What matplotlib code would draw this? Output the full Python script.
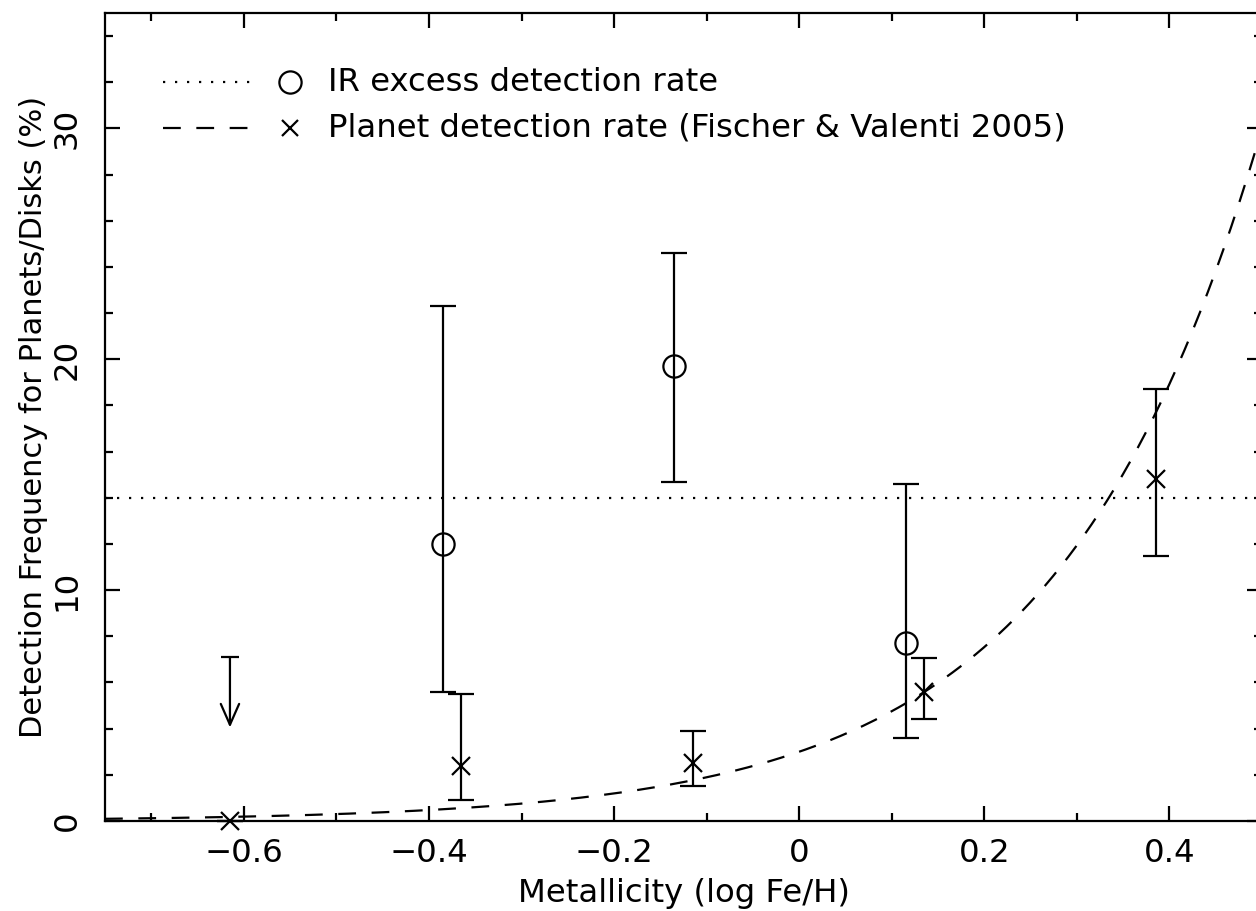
import numpy as np
import matplotlib
matplotlib.use("Agg")
import matplotlib.pyplot as plt
from matplotlib.ticker import MultipleLocator

plt.rcParams["font.family"] = ["DejaVu Sans"]
plt.rcParams["axes.unicode_minus"] = True

# IR excess (circles) — detection rate per metallicity bin
ir_feh = [-0.385, -0.135, 0.115]
ir_rate = [12.0, 19.7, 7.7]
ir_lo = [5.6, 14.7, 3.6]
ir_hi = [22.3, 24.6, 14.6]

# IR upper limit in the lowest bin
ir_lim_feh = [-0.615]
ir_lim_val = [7.1]

# mean IR excess rate (dotted line)
ir_mean = 14.0

# planet detection rate (crosses)
pl_feh = [-0.615, -0.365, -0.115, 0.135, 0.385]
pl_rate = [0.0, 2.4, 2.5, 5.6, 14.8]
pl_lo = [0.0, 0.9, 1.5, 4.4, 11.5]
pl_hi = [0.0, 5.5, 3.9, 7.05, 18.7]

# Fischer & Valenti (2005): P(%) = 3 * 10**(2 [Fe/H])
fv_coef = 3.0
fv_slope = 2.0

LW = 1.6
FS = 23.3

fig = plt.figure(figsize=(12.56, 9.11), dpi=100)
ax = fig.add_axes([105 / 1256, 90 / 911, 1157 / 1256, 808 / 911])

# 曲线和水平线
xx = np.linspace(-0.75, 0.5, 300)
ax.plot(xx, fv_coef * 10 ** (fv_slope * xx), color="black", lw=LW,
        linestyle=(0, (8, 7)))
ax.axhline(ir_mean, color="black", lw=LW, linestyle=(0, (1, 4.4)))

# 误差棒
ir_err = [np.array(ir_rate) - np.array(ir_lo), np.array(ir_hi) - np.array(ir_rate)]
ax.errorbar(ir_feh, ir_rate, yerr=ir_err, fmt="o", mfc="none", mec="black",
            ms=16, mew=LW, ecolor="black", elinewidth=LW, capsize=9.5,
            capthick=LW)
pl_err = [np.array(pl_rate) - np.array(pl_lo), np.array(pl_hi) - np.array(pl_rate)]
ax.errorbar(pl_feh, pl_rate, yerr=pl_err, fmt="x", color="black",
            ms=13, mew=LW, ecolor="black", elinewidth=LW, capsize=9.5,
            capthick=LW, clip_on=False)

# 上限箭头
for x, v in zip(ir_lim_feh, ir_lim_val):
    ax.plot([x], [v], marker="_", color="black", ms=13, mew=LW)
    ax.annotate("", xy=(x, v - 3.05), xytext=(x, v),
                arrowprops=dict(arrowstyle="->,head_length=0.75,head_width=0.33",
                                color="black", lw=LW, mutation_scale=20,
                                shrinkA=0, shrinkB=0))

# 图例（手动）
rows = [(0.9146, (0, (1, 4.4)), "o", "IR excess detection rate"),
        (0.8577, (0, (8, 7)), "x", "Planet detection rate (Fischer & Valenti 2005)")]
for y, ls, mk, label in rows:
    ax.plot([0.050, 0.128], [y, y], transform=ax.transAxes, color="black",
            lw=LW, linestyle=ls)
    if mk == "o":
        ax.plot([0.160], [y], transform=ax.transAxes, marker="o", mfc="none",
                mec="black", ms=16, mew=LW)
    else:
        ax.plot([0.160], [y], transform=ax.transAxes, marker="x", color="black",
                ms=11, mew=LW)
    ax.text(0.193, y, label, transform=ax.transAxes, fontsize=FS,
            va="center", ha="left")

ax.set_xlim(-0.75, 0.5)
ax.set_ylim(0, 35)
ax.xaxis.set_major_locator(MultipleLocator(0.2))
ax.xaxis.set_minor_locator(MultipleLocator(0.1))
ax.yaxis.set_major_locator(MultipleLocator(10))
ax.yaxis.set_minor_locator(MultipleLocator(2))
ax.set_xticks([-0.6, -0.4, -0.2, 0.0, 0.2, 0.4])
ax.set_xticklabels(["\u22120.6", "\u22120.4", "\u22120.2", "0", "0.2", "0.4"])
ax.set_yticks([0, 10, 20, 30])
ax.set_yticklabels(["0", "10", "20", "30"], rotation=90, va="center")

ax.tick_params(which="both", direction="in", top=True, right=True,
               width=LW, labelsize=FS, colors="black")
ax.tick_params(which="major", length=11)
ax.tick_params(which="minor", length=6)
ax.tick_params(axis="x", pad=12)
ax.tick_params(axis="y", pad=16)
for sp in ax.spines.values():
    sp.set_linewidth(LW)

ax.set_xlabel("Metallicity (log Fe/H)", fontsize=FS)
ax.set_ylabel("Detection Frequency for Planets/Disks (%)", fontsize=22)
ax.xaxis.set_label_coords(0.5, -0.071)
ax.yaxis.set_label_coords(-0.049, 0.5)

fig.savefig("out.png", dpi=100)
